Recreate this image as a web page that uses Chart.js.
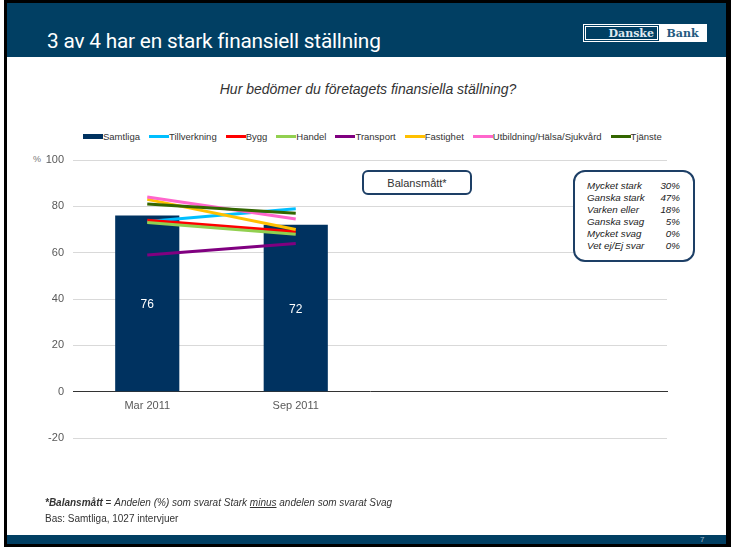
<!DOCTYPE html>
<html>
<head>
<meta charset="utf-8">
<script src="https://cdn.jsdelivr.net/npm/chart.js@4.4.1/dist/chart.umd.min.js"></script>
<style>
  html,body{margin:0;padding:0;background:#fff;}
  #frame{position:absolute;left:4px;top:0;width:727px;height:547px;background:#000;}
  #panel{position:absolute;left:6.5px;top:3px;width:719.5px;height:541px;background:#fff;overflow:hidden;}
  #header{position:absolute;left:6.5px;top:3px;width:719.5px;height:54px;background:#013f63;}
  #footer{position:absolute;left:6.5px;top:535px;width:719.5px;height:9px;background:#013f63;}
  #title{position:absolute;left:47px;top:29px;color:#fff;font-family:Roboto,"Liberation Sans",sans-serif;font-size:21px;white-space:nowrap;transform-origin:0 0;transform:scaleX(0.99);letter-spacing:-0.2px;}
  #logo{position:absolute;left:583px;top:24px;width:124px;height:18px;border:1px solid #fff;box-sizing:border-box;display:flex;font-family:"DejaVu Serif","Liberation Serif",serif;font-size:11px;font-weight:bold;}
  #logo .l{width:75px;background:#013f63;color:#dfe8ef;display:flex;align-items:center;justify-content:flex-end;padding-right:4px;box-sizing:border-box;border:1px solid #013f63;outline:1px solid #fff;outline-offset:-2px;}
  #logo .r{flex:1;background:#fff;color:#245a80;display:flex;align-items:center;justify-content:center;}
  #pagenum{position:absolute;left:700px;top:535px;font-family:"Liberation Sans",sans-serif;font-size:8px;color:#9fb6c8;line-height:10px;}
  #subtitle{position:absolute;left:0;width:736px;top:81px;text-align:center;font-family:"Liberation Sans",sans-serif;font-style:italic;font-size:14px;color:#333;}
  #legend{position:absolute;left:83px;top:130px;display:flex;gap:9px;font-family:"Liberation Sans",sans-serif;font-size:9.5px;color:#333;white-space:nowrap;}
  #legend .it{display:flex;align-items:center;height:12px;}
  #legend .mk{display:inline-block;width:20px;height:3px;}
  #legend .mk.bar{height:5px;}
  #pct{position:absolute;left:33px;top:154px;font-family:"Liberation Sans",sans-serif;font-size:9px;color:#777;}
  #chart{position:absolute;left:0;top:0;}
  #bal{position:absolute;left:362px;top:170px;width:110px;height:25px;border:2px solid #1d3f66;border-radius:6px;box-sizing:border-box;text-align:center;font-family:"Liberation Sans",sans-serif;font-size:11px;color:#333;line-height:22px;background:#fff;}
  #dist{position:absolute;left:573px;top:170px;width:122px;height:92px;border:2px solid #1d3f66;border-radius:12px;box-sizing:border-box;background:#fff;font-family:"Liberation Sans",sans-serif;font-style:italic;font-size:9.8px;color:#222;padding-top:8px;}
  #dist .row{display:flex;justify-content:space-between;padding:0 13px 0 12px;height:12px;line-height:12px;}
  #foot1{position:absolute;left:45px;top:497px;font-family:"Liberation Sans",sans-serif;font-style:italic;font-size:10px;color:#333;white-space:nowrap;}
  #foot2{position:absolute;left:45px;top:513px;font-family:"Liberation Sans",sans-serif;font-size:10px;color:#333;white-space:nowrap;}
</style>
</head>
<body>
<div id="frame"></div>
<div id="panel"></div>
<div id="header"></div>
<div id="footer"></div>
<div id="title">3 av 4 har en stark finansiell ställning</div>
<div id="logo"><div class="l">Danske</div><div class="r">Bank</div></div>
<div id="pagenum">7</div>
<div id="subtitle">Hur bedömer du företagets finansiella ställning?</div>
<div id="legend"></div>
<div id="pct">%</div>
<canvas id="chart" width="731" height="547"></canvas>
<div id="bal">Balansmått*</div>
<div id="dist"></div>
<div id="foot1"><b>*Balansmått</b><span style="font-style:normal"> = </span>Andelen (%) som svarat Stark <u>minus</u> andelen som svarat Svag</div>
<div id="foot2">Bas: Samtliga, 1027 intervjuer</div>
<script>
// ---- data ----
const categories = ['Mar 2011', 'Sep 2011', '', ''];
const samtliga = [76, 72, null, null];
const tillverkning = [73.5, 79, null, null];
const bygg = [74, 69, null, null];
const handel = [73, 68, null, null];
const transport = [59, 64, null, null];
const fastighet = [83, 70, null, null];
const utbildning = [84, 74.5, null, null];
const tjanste = [81, 77, null, null];
const yTicks = [-20, 0, 20, 40, 60, 80, 100];
const distLabels = ['Mycket stark', 'Ganska stark', 'Varken eller', 'Ganska svag', 'Mycket svag', 'Vet ej/Ej svar'];
const distValues = [30, 47, 18, 5, 0, 0];

const lineSeries = [
  ['Tillverkning', tillverkning, '#00bfff'],
  ['Bygg', bygg, '#ff0000'],
  ['Handel', handel, '#92d050'],
  ['Transport', transport, '#800080'],
  ['Fastighet', fastighet, '#ffc000'],
  ['Utbildning/Hälsa/Sjukvård', utbildning, '#ff66cc'],
  ['Tjänste', tjanste, '#336600']
];
const barColor = '#003260';

// distribution box
const dist = document.getElementById('dist');
distLabels.forEach((l, i) => {
  const r = document.createElement('div'); r.className = 'row';
  r.innerHTML = '<span>' + l + '</span><span>' + distValues[i] + '%</span>';
  dist.appendChild(r);
});

// legend
const legend = document.getElementById('legend');
function addLegend(name, color, isBar) {
  const it = document.createElement('div'); it.className = 'it';
  it.innerHTML = '<span class="mk' + (isBar ? ' bar' : '') + '" style="background:' + color + '"></span><span>' + name + '</span>';
  legend.appendChild(it);
}
addLegend('Samtliga', barColor, true);
lineSeries.forEach(s => addLegend(s[0], s[2], false));

const datasets = [{
  type: 'bar', label: 'Samtliga', data: samtliga, backgroundColor: barColor,
  borderWidth: 0, order: 100, categoryPercentage: 1, barPercentage: 0.432
}];
lineSeries.forEach((s, i) => datasets.push({
  type: 'line', label: s[0], data: s[1], borderColor: s[2], backgroundColor: s[2],
  borderWidth: 3, pointRadius: 0, pointHoverRadius: 0, fill: false, tension: 0,
  order: 50 - i, spanGaps: false
}));

const barLabels = {
  id: 'barLabels',
  afterDatasetsDraw(chart) {
    const ctx = chart.ctx;
    const meta = chart.getDatasetMeta(0);
    ctx.save();
    ctx.fillStyle = '#fff';
    ctx.font = '12px "Liberation Sans", sans-serif';
    ctx.textAlign = 'center'; ctx.textBaseline = 'middle';
    meta.data.forEach((el, i) => {
      const v = samtliga[i];
      if (v == null) return;
      ctx.fillText(String(v), el.x, (el.y + el.base) / 2 + 1.5);
    });
    ctx.restore();
  }
};

new Chart(document.getElementById('chart'), {
  data: { labels: categories, datasets },
  options: {
    responsive: false, devicePixelRatio: 1, animation: false,
    layout: { padding: { left: 0, right: 64, top: 160, bottom: 109 } },
    plugins: { legend: { display: false }, tooltip: { enabled: false } },
    scales: {
      x: {
        type: 'category', position: { y: 0 },
        grid: { display: false, drawTicks: false },
        border: { display: true, color: '#333', width: 1 },
        ticks: { color: '#595959', font: { family: '"Liberation Sans", sans-serif', size: 11 }, padding: 8, maxRotation: 0 }
      },
      y: {
        min: -20, max: 100,
        afterFit(s) { s.width = 73; },
        afterBuildTicks(s) { s.ticks = yTicks.map(v => ({ value: v })); },
        grid: { drawTicks: false, color: c => (c.tick && c.tick.value === 0) ? 'rgba(0,0,0,0)' : '#d9d9d9', lineWidth: 1 },
        border: { display: false },
        ticks: { color: '#595959', font: { family: '"Liberation Sans", sans-serif', size: 11 }, padding: 9 }
      }
    }
  },
  plugins: [barLabels]
});
</script>
</body>
</html>
